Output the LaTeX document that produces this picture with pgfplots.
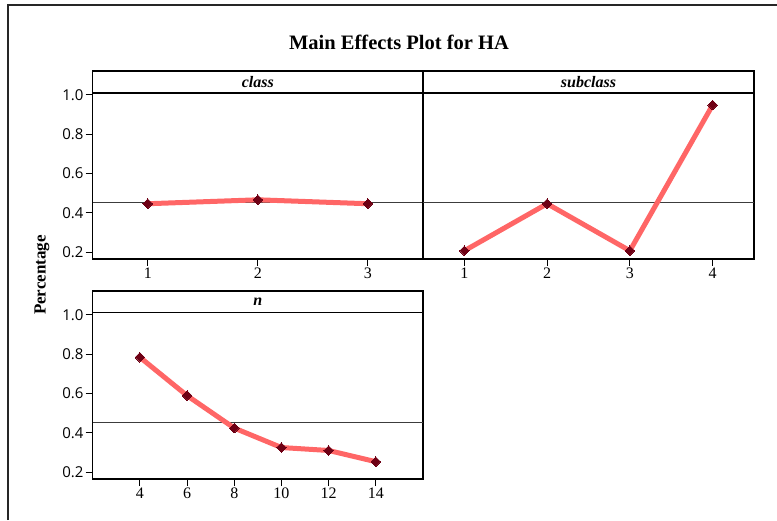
\documentclass[border=0pt]{standalone}
\usepackage{fontspec}
\usepackage{pgfplots}
\pgfplotsset{compat=1.18}
\setmainfont{Liberation Serif}
\newfontfamily\tickfont{Open Sans}
\definecolor{linered}{RGB}{255,102,102}
\definecolor{markred}{RGB}{110,0,20}
\definecolor{refgray}{RGB}{60,60,60}
\pgfplotsset{
  panel/.style={
    scale only axis, height=188pt,
    ymin=0.166, ymax=1.122,
    ytick={0.2,0.4,0.6,0.8,1.0},
    axis line style={line width=1.3pt, black},
    tick align=outside, major tick length=7pt,
    tick style={black, line width=1pt},
    xtick pos=bottom, ytick pos=left,
    /pgf/number format/assume math mode=true,
    yticklabel style={font=\tickfont\fontsize{15}{15}\selectfont, inner sep=2pt,
      /pgf/number format/fixed, /pgf/number format/fixed zerofill, /pgf/number format/precision=1},
    xticklabel style={font=\fontsize{16}{16}\selectfont, inner sep=1.5pt},
    clip=false,
  },
  refline/.style={line width=0.9pt, refgray},
  dataline/.style={linered, line width=5pt, mark=square*, mark size=3.4pt,
    mark options={solid, rotate=45, fill=markred, draw=markred, line width=0pt}},
}
\begin{document}
\begin{tikzpicture}[x=1pt,y=1pt]
\useasboundingbox (0,0) rectangle (777,520);
\draw[line width=1.4pt, black!85] (8,0) -- (8,515) -- (777,515);
\node[font=\bfseries\fontsize{20.5}{21}\selectfont] at (399,478) {Main Effects Plot for HA};
\node[font=\bfseries\fontsize{17}{17}\selectfont, rotate=90] at (42,245) {Percentage};

% class
\begin{axis}[panel, at={(92.7pt,261pt)}, anchor=south west, width=330.3pt,
  xmin=0.5, xmax=3.5, xtick={1,2,3}]
\addplot[refline] coordinates {(0.5,0.453) (3.5,0.453)};
\addplot[dataline] coordinates {(1,0.447) (2,0.467) (3,0.447)};
\draw[line width=1.3pt] (axis cs:0.5,1.010) -- (axis cs:3.5,1.010);
\node[font=\bfseries\itshape\fontsize{16}{16}\selectfont] at (axis cs:2,1.066) {class};
\end{axis}

% subclass
\begin{axis}[panel, at={(423pt,261pt)}, anchor=south west, width=331pt,
  xmin=0.5, xmax=4.5, xtick={1,2,3,4}, ytick=\empty]
\addplot[refline] coordinates {(0.5,0.453) (4.5,0.453)};
\addplot[dataline] coordinates {(1,0.208) (2,0.447) (3,0.208) (4,0.949)};
\draw[line width=1.3pt] (axis cs:0.5,1.010) -- (axis cs:4.5,1.010);
\node[font=\bfseries\itshape\fontsize{16}{16}\selectfont] at (axis cs:2.5,1.066) {subclass};
\end{axis}

% n
\begin{axis}[panel, at={(92.7pt,41pt)}, anchor=south west, width=330.3pt,
  xmin=2, xmax=16, xtick={4,6,8,10,12,14}]
\addplot[refline] coordinates {(2,0.452) (16,0.452)};
\addplot[dataline] coordinates {(4,0.785) (6,0.590) (8,0.425) (10,0.326) (12,0.311) (14,0.254)};
\draw[line width=1.3pt] (axis cs:2,1.012) -- (axis cs:16,1.012);
\node[font=\bfseries\itshape\fontsize{16}{16}\selectfont] at (axis cs:9,1.066) {n};
\end{axis}
\end{tikzpicture}
\end{document}
